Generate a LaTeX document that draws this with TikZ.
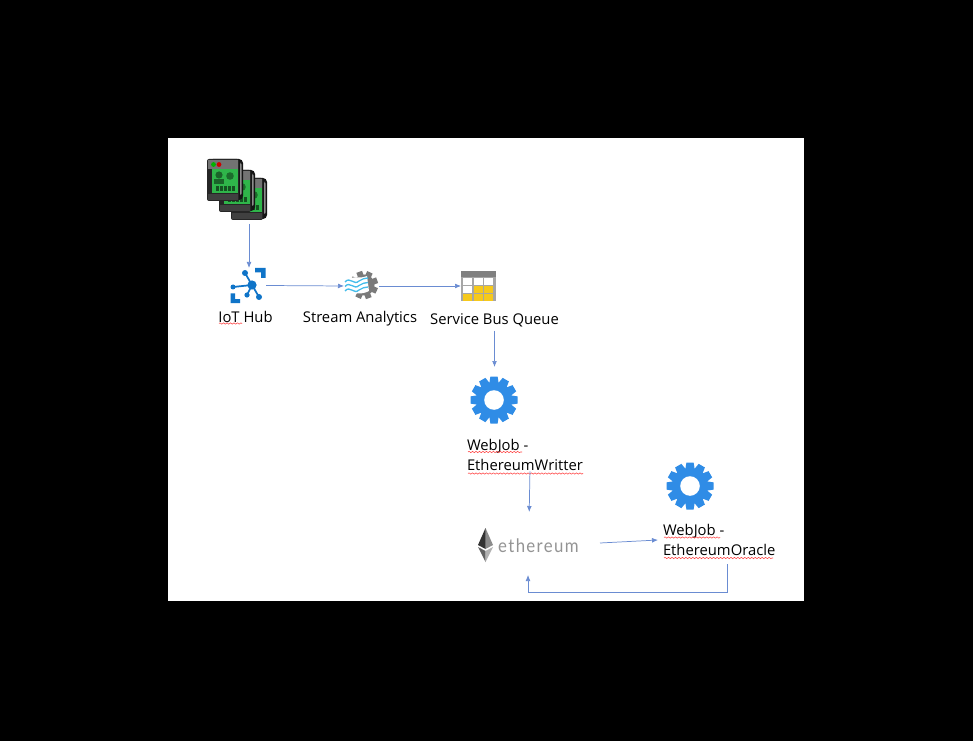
\documentclass[tikz,border=0pt]{standalone}
\usepackage{fontspec}
\setmainfont{Open Sans}
\newfontfamily\ethfont[LetterSpace=8]{Lato}
\usetikzlibrary{arrows.meta,decorations.pathmorphing,calc}
\definecolor{conn}{HTML}{6A8CD2}
\definecolor{gearblue}{HTML}{2F8CE6}
\definecolor{hubblue}{HTML}{0F74C8}
\definecolor{gearGrey}{HTML}{7A7A7A}
\definecolor{waveblue}{HTML}{45BDEB}
\definecolor{scrgreen}{HTML}{2FB54A}
\definecolor{cellyellow}{HTML}{F6C91C}
\tikzset{
  slot/.style n args={2}{minimum width=#1*0.75pt,minimum height=#2*0.75pt,inner sep=0pt,outer sep=0pt},
  lbl/.style={font=\fontsize{11.1}{15}\selectfont,text=black,inner sep=0pt,outer sep=0pt},
  link/.style={draw=conn,line width=0.55pt,-{Latex[length=4.5pt,width=3.6pt]}},
  squiggle/.style={draw=red!75!white,line width=0.4pt,decorate,decoration={snake,amplitude=0.5pt,segment length=2.6pt}},
  pics/cog/.style={code={
    \foreach \a in {0,30,...,330}{
      \fill[gearblue,rotate=\a] (-3.6,-23.5) -- (3.6,-23.5) -- (4.8,-16) -- (-4.8,-16) -- cycle;
    }
    \fill[gearblue] (0,0) circle[radius=18*0.75pt];
    \fill[white] (0,0) circle[radius=9.8*0.75pt];
  }},
  pics/handset/.style={code={
    \fill[black!92,rounded corners=3pt] (2,0) rectangle (36,41);
    \fill[black!45,rounded corners=1pt] (33,4) rectangle (34.5,36);
    \fill[black!85,rounded corners=1.5pt] (0,0) rectangle (32,42);
    \fill[black!55] (1,1) rectangle (31,10);
    \fill[scrgreen] (5,10) rectangle (31,34);
    \fill[black!75] (1,35) rectangle (31,41);
    \fill[green!70!black] (6.5,5.5) circle[radius=2.4*0.75pt];
    \fill[red!80!black] (12,5.5) circle[radius=2.4*0.75pt];
    \fill[black!45!scrgreen] (12,16) circle[radius=3.6*0.75pt];
    \fill[black!45!scrgreen] (7,25) rectangle (17,20);
    \fill[black!40!scrgreen] (23,17) circle[radius=3.8*0.75pt];
    \foreach \q in {9,13,17,21,25}{\fill[black!55!scrgreen] (\q,27) rectangle ++(2.6,5);}
  }}
}
\begin{document}
\begin{tikzpicture}[x=0.75pt,y=-0.75pt]
\useasboundingbox (0,0) rectangle (973,741);
\fill[black] (0,0) rectangle (973,741);
\fill[white] (168,138) rectangle (804,601);

% --- device stack
\pic at (231,178) {handset};
\pic at (219,170) {handset};
\pic at (207,159) {handset};
\node[slot={36}{60}] (phones) at (249,191) {};

% --- IoT hub icon
\node[slot={34}{35}] (hub) at (249,285.5) {};
\begin{scope}[hubblue]
  \draw[line width=1.3pt] (252,285) -- (245,273) (252,285) -- (233,287) (252,285) -- (247,295) (252,285) -- (259,297);
  \fill (252,285) circle[radius=4.6*0.75pt];
  \fill (245,273) circle[radius=3*0.75pt];
  \fill (233,287) circle[radius=2.5*0.75pt];
  \fill (247,295) circle[radius=2.6*0.75pt];
  \fill (259,297) circle[radius=3*0.75pt];
  \fill (255,268) -- (265.5,268) -- (265.5,278) -- (261,278) -- (261,272.5) -- (255,272.5) -- cycle;
  \fill (230.5,293.5) -- (235,293.5) -- (235,299) -- (240,299) -- (240,303) -- (230.5,303) -- cycle;
\end{scope}
\node[lbl,anchor=center] (iotlbl) at (245.5,317) {IoT Hub};
\draw[squiggle] (219,323.5) -- (242,323.5);

% --- stream analytics icon
\node[slot={35}{30}] (stream) at (361.5,286) {};
\foreach \a in {0,45,...,315}{
  \fill[gearGrey,shift={(364,285)},rotate=\a+20] (-3,-14) rectangle (3,-8);
}
\fill[gearGrey] (364,285) circle[radius=10.5*0.75pt];
\fill[white] (364,285) circle[radius=4*0.75pt];
\fill[white] (344,281) .. controls (352,274) and (358,280) .. (367,276) -- (369,291) .. controls (360,296) and (353,291) .. (345,296) -- cycle;
\foreach \dy in {0,4.5,9}{
  \draw[waveblue,line width=1pt] (345,\dy+282) .. controls (350,\dy+276) and (354,\dy+286) .. (359,\dy+281) .. controls (362,\dy+279) and (365,\dy+278) .. (368,\dy+278);
}
\node[lbl] (streamlbl) at (360,319) {Stream Analytics};

% --- service bus queue icon
\node[slot={35}{30}] (table) at (478.5,286) {};
\fill[black!35] (461,271) rectangle (496,301);
\fill[black!50] (461,271) rectangle (496,277);
\foreach \cx/\cy/\cc in {463/278/white,473.5/278/white,484/278/white,
                         463/286/white,473.5/286/cellyellow,484/286/cellyellow,
                         463/294/cellyellow,473.5/294/cellyellow,484/294/cellyellow}{
  \fill[\cc] (\cx,\cy) rectangle ++(9.2,6.6);
}
\node[lbl] (sbqlbl) at (494.5,320) {Service Bus Queue};

% --- web job writer
\node[slot={48}{48}] (cogA) at (494,400) {};
\pic at (494,400) {cog};
\node[lbl,align=left,anchor=north west] (wlbl) at (467,439) {WebJob -\\EthereumWritter};
\draw[squiggle] (468,452) -- (522,452);
\draw[squiggle] (468,473.5) -- (583,473.5);

% --- ethereum
\node[slot={148}{38}] (eth) at (526,543) {};
\fill[black!45] (485.5,528) -- (493,545) -- (485.5,549) -- cycle;
\fill[black!80] (485.5,528) -- (478,545) -- (485.5,549) -- cycle;
\fill[black!62] (478,547) -- (485.5,551) -- (485.5,562) -- cycle;
\fill[black!30] (493,547) -- (485.5,551) -- (485.5,562) -- cycle;
\node[anchor=west,inner sep=0pt,text=black!42,xscale=0.9,font=\fontsize{14}{15}\ethfont] (ethtxt) at (498,546) {ethereum};

% --- web job oracle
\node[slot={48}{48}] (cogB) at (690,486) {};
\pic at (690,486) {cog};
\node[lbl,align=left,anchor=north west] (olbl) at (663,524) {WebJob -\\EthereumOracle};
\draw[squiggle] (664,537.5) -- (720,537.5);
\draw[squiggle] (664,558) -- (773,558);
\node[slot={120}{48}] (oslot) at (718,540) {};

% --- connectors
\draw[link,shorten <=3*0.75pt] (phones.south) -- (phones.south |- hub.north);
\draw[link] (hub.east) -- (stream.west);
\draw[link] (stream.east) -- (table.west);
\draw[link,shorten <=4*0.75pt,shorten >=9*0.75pt] (sbqlbl.south) -- (sbqlbl.south |- cogA.north);
\draw[link,shorten >=12*0.75pt] ($(wlbl.south)+(5,1)$) -- ($(eth.north)+(3,0)$);
\draw[link] (eth.east) -- (oslot.west);
\draw[link,shorten >=13*0.75pt] ($(oslot.south)+(9,0)$) -- ++(0,28) -| ($(eth.south)+(2,0)$);
\end{tikzpicture}
\end{document}
